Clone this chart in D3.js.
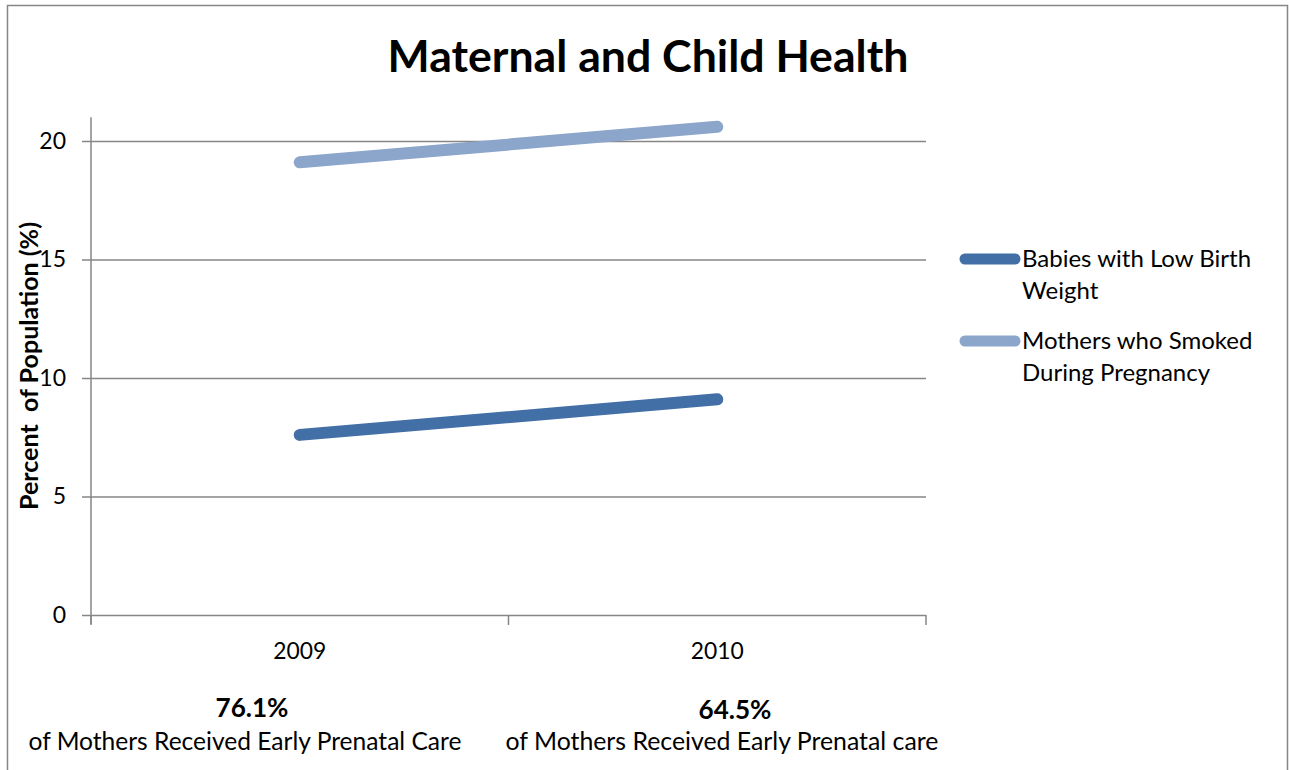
<!DOCTYPE html>
<html><head><meta charset="utf-8">
<script src="https://cdn.jsdelivr.net/npm/d3@7"></script>
<style>body{margin:0;background:#fff}svg{display:block}text{font-family:Lato,"Open Sans",sans-serif}</style>
</head><body><svg id="c" width="1289" height="770"></svg>
<script>
const title = "Maternal and Child Health";
const categories = ["2009", "2010"];
const seriesNames = ["Babies with Low Birth Weight", "Mothers who Smoked During Pregnancy"];
const legendLines = [["Babies with Low Birth", "Weight"], ["Mothers who Smoked", "During Pregnancy"]];
const lowBirthWeight = [7.6, 9.1];
const smokedDuringPregnancy = [19.1, 20.6];
const yTicks = [0, 5, 10, 15, 20];
const yLabel = "Percent  of Population (%)";
const prenatalPct = ["76.1%", "64.5%"];
const prenatalText = ["of Mothers Received Early Prenatal Care", "of Mothers Received Early Prenatal care"];
const colors = ["#416FA6", "#8BA5CB"];

const svg = d3.select("#c");
const L = 91, R = 926, B = 615, T = 141;
const x = d3.scalePoint().domain(categories).range([L, R]).padding(0.5);
const y = d3.scaleLinear().domain([0, 20]).range([B, T]);
const grid = "#868686";

// fit a text element to a target width by adjusting its font size
function fit(sel, w) {
  sel.each(function () {
    const n = d3.select(this);
    const cur = this.getComputedTextLength();
    const fs = parseFloat(n.attr("font-size"));
    if (cur > 0) n.attr("font-size", (fs * w / cur).toFixed(2));
  });
  return sel;
}

// outer border
svg.append("path").attr("d", "M7.5,770 V5.5 H1287.5 V770").attr("fill", "none").attr("stroke", grid).attr("stroke-width", 1.5);

// title
svg.append("text").attr("x", 648).attr("y", 72).attr("text-anchor", "middle")
  .attr("font-size", 40).attr("font-weight", "bold").attr("fill", "#000").text(title).call(fit, 521);

// gridlines
svg.append("g").selectAll("line").data(yTicks.filter(d => d > 0)).join("line")
  .attr("x1", L).attr("x2", R).attr("y1", d => y(d) + 0.5).attr("y2", d => y(d) + 0.5)
  .attr("stroke", grid).attr("stroke-width", 1.5);

// y axis
const yAxis = svg.append("g").attr("transform", `translate(${L},0)`)
  .call(d3.axisLeft(y).tickValues(yTicks).tickSize(9).tickPadding(16).tickFormat(d3.format("d")));
yAxis.select(".domain").remove();
yAxis.selectAll(".tick line").attr("stroke", grid).attr("stroke-width", 1.5);
yAxis.selectAll(".tick text").attr("font-size", 23).attr("fill", "#000").attr("font-family", "Lato");
svg.append("line").attr("x1", L).attr("x2", L).attr("y1", y(21)).attr("y2", B + 9)
  .attr("stroke", grid).attr("stroke-width", 1.5);

// x axis
svg.append("line").attr("x1", L).attr("x2", R).attr("y1", B + 0.5).attr("y2", B + 0.5).attr("stroke", grid).attr("stroke-width", 1.5);
const step = x.step();
const bounds = [L].concat(categories.map(c => x(c) + step / 2));
svg.append("g").selectAll("line").data(bounds).join("line")
  .attr("x1", d => d).attr("x2", d => d).attr("y1", B).attr("y2", B + 10)
  .attr("stroke", grid).attr("stroke-width", 1.5);
svg.append("g").selectAll("text").data(categories).join("text")
  .attr("x", d => x(d)).attr("y", 659).attr("text-anchor", "middle").attr("font-size", 20).text(d => d).call(fit, 53);

// y label
svg.append("text").attr("transform", "translate(38,366) rotate(-90)").attr("text-anchor", "middle")
  .attr("font-size", 20).attr("font-weight", "bold").style("white-space", "pre").text(yLabel).call(fit, 288);

// lines
const seriesData = [lowBirthWeight, smokedDuringPregnancy];
const line = d3.line().x((d, i) => x(categories[i])).y(d => y(d));
svg.append("g").selectAll("path").data(seriesData).join("path")
  .attr("d", d => line(d)).attr("fill", "none").attr("stroke", (d, i) => colors[i])
  .attr("stroke-width", 12).attr("stroke-linecap", "round");

// legend
const lg = svg.append("g").selectAll("g").data(legendLines).join("g")
  .attr("transform", (d, i) => `translate(0,${259 + i * 82})`);
lg.append("line").attr("x1", 965).attr("x2", 1015).attr("y1", 0).attr("y2", 0)
  .attr("stroke", (d, i) => colors[i]).attr("stroke-width", 11).attr("stroke-linecap", "round");
const legendFs = 24;
lg.append("text").attr("x", 1022).attr("y", 8).attr("font-size", legendFs)
  .selectAll("tspan").data(d => d).join("tspan").attr("x", 1022).attr("dy", (d, i) => i ? 32 : 0).text(d => d);

// annotations
const annX = [[252, 245], [735, 722]];
svg.append("g").selectAll("text").data(prenatalPct).join("text")
  .attr("x", (d, i) => annX[i][0]).attr("y", (d, i) => 717 + i * 2).attr("text-anchor", "middle")
  .attr("font-size", 22).attr("font-weight", "bold").text(d => d).call(fit, 73);
svg.append("g").selectAll("text").data(prenatalText).join("text")
  .attr("x", (d, i) => annX[i][1]).attr("y", 750).attr("text-anchor", "middle")
  .attr("font-size", 21).text(d => d).call(fit, 433);
</script></body></html>
